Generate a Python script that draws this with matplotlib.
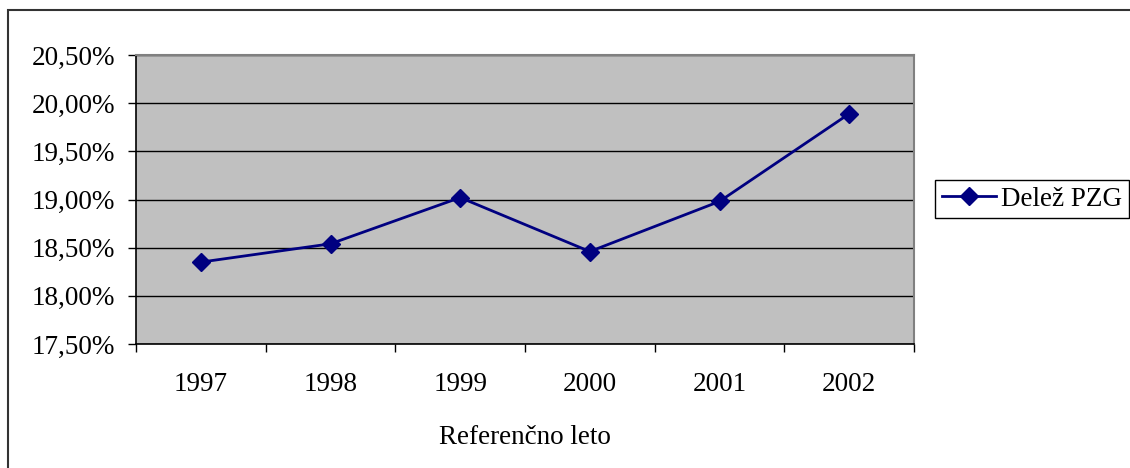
import matplotlib
matplotlib.use("Agg")
import matplotlib.pyplot as plt
from matplotlib.patches import Rectangle
from matplotlib.ticker import FixedLocator, FuncFormatter
from matplotlib.lines import Line2D

years = ["1997", "1998", "1999", "2000", "2001", "2002"]
share = [18.35, 18.54, 19.02, 18.46, 18.98, 19.89]
series_name = "Delež PZG"
x_label = "Referenčno leto"
y_ticks = [17.5, 18.0, 18.5, 19.0, 19.5, 20.0, 20.5]

plt.rcParams['font.family'] = ['Liberation Serif', 'DejaVu Serif']
FS = 19.5

W, H = 1130, 468
fig = plt.figure(figsize=(W / 100, H / 100), dpi=100)
fig.patch.set_facecolor('white')

# outer chart border
fig.patches.append(Rectangle((8 / W, -10 / H), 1.2, 1, transform=fig.transFigure,
                             fill=False, edgecolor='#333333', linewidth=1.5))

L, T, R, B = 136, 55, 914, 344
ax = fig.add_axes([L / W, 1 - B / H, (R - L) / W, (B - T) / H])
ax.set_facecolor('#C0C0C0')

xs = list(range(len(years)))
ax.plot(xs, share, color='#000080', linewidth=2, marker='D', markersize=9,
        markerfacecolor='#000080', markeredgecolor='#000080', zorder=3)

ax.set_xlim(-0.5, len(years) - 0.5)
ax.set_ylim(y_ticks[0], y_ticks[-1])
ax.set_yticks(y_ticks)
ax.yaxis.set_major_formatter(FuncFormatter(lambda v, p: f"{v:.2f}".replace('.', ',') + "%"))
ax.yaxis.grid(True, color='black', linewidth=1)
ax.set_axisbelow(True)

ax.set_xticks(xs)
ax.set_xticklabels(years)
ax.xaxis.set_minor_locator(FixedLocator([i - 0.5 for i in range(len(years) + 1)]))
ax.tick_params(axis='x', which='major', length=0, pad=20, labelsize=FS)
ax.tick_params(axis='x', which='minor', length=6, width=1, direction='out')
ax.tick_params(axis='y', which='major', length=6, width=1, direction='out', pad=9, labelsize=FS)

for s in ['top', 'right']:
    ax.spines[s].set_color('#808080')
    ax.spines[s].set_linewidth(1.5)
for s in ['left', 'bottom']:
    ax.spines[s].set_color('black')
    ax.spines[s].set_linewidth(1.2)

ax.set_xlabel(x_label, fontsize=FS, labelpad=20)

handle = Line2D([0], [0], color='#000080', linewidth=2, marker='D', markersize=9)
leg = fig.legend([handle], [series_name], loc='center left',
                 bbox_to_anchor=(935 / W, 1 - 199 / H), fontsize=FS,
                 fancybox=False, edgecolor='black', framealpha=1,
                 borderpad=0.25, handlelength=2.0, handletextpad=0.2, borderaxespad=0)
leg.get_frame().set_linewidth(1)

fig.savefig("out.png", dpi=100)
